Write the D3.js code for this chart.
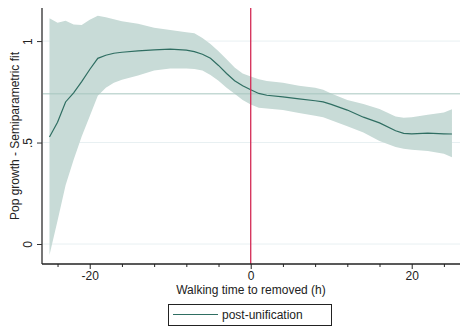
<!DOCTYPE html>
<html>
<head>
<meta charset="utf-8">
<script src="https://cdn.jsdelivr.net/npm/d3@7"></script>
<style>
  body { margin: 0; background: #fff; }
  text { font-family: "Liberation Sans", Arial, sans-serif; }
</style>
</head>
<body>
<svg id="chart" width="460" height="329"></svg>
<script>
// walking time (h)
var times = [-25, -24, -23, -22, -21, -20, -19, -18, -17, -16, -14, -12, -10, -8, -7, -6, -5, -4, -3, -2, -1,
  0, 1, 2, 4, 6, 8, 9, 10, 12, 14, 16, 18, 19, 20, 22, 24, 25];
var fit = [0.527, 0.60, 0.70, 0.745, 0.80, 0.86, 0.915, 0.93, 0.94, 0.945, 0.952, 0.957, 0.96, 0.955, 0.948, 0.935, 0.915, 0.88, 0.84, 0.805, 0.78,
  0.76, 0.742, 0.733, 0.725, 0.715, 0.706, 0.70, 0.688, 0.66, 0.625, 0.597, 0.558, 0.545, 0.543, 0.546, 0.543, 0.542];
var upper = [1.112, 1.09, 1.10, 1.082, 1.079, 1.105, 1.125, 1.118, 1.108, 1.098, 1.085, 1.066, 1.055, 1.044, 1.038, 1.015, 0.985, 0.95, 0.91, 0.87, 0.84,
  0.825, 0.812, 0.803, 0.795, 0.78, 0.77, 0.76, 0.742, 0.71, 0.69, 0.665, 0.628, 0.622, 0.625, 0.637, 0.648, 0.664];
var lower = [-0.054, 0.115, 0.29, 0.415, 0.53, 0.63, 0.73, 0.77, 0.795, 0.81, 0.83, 0.855, 0.865, 0.865, 0.863, 0.855, 0.833, 0.805, 0.77, 0.74, 0.71,
  0.688, 0.672, 0.668, 0.66, 0.645, 0.632, 0.625, 0.61, 0.58, 0.55, 0.508, 0.478, 0.47, 0.465, 0.458, 0.445, 0.427];
var yTicks = [0, 0.5, 1];
var yTickLabels = ["0", ".5", "1"];
var xMajor = [-20, 0, 20];
var xMinor = [-24, -16, -12, -8, -4, 4, 8, 12, 16, 24];
var refLevel = 0.74;
var cutoff = 0;

var svg = d3.select("#chart");
var pLeft = 42, pRight = 460, pTop = 8, pBottom = 264;

var x = d3.scaleLinear().domain([-25.93, 26]).range([pLeft, pRight]);
var y = d3.scaleLinear().domain([-0.0985, 1.163]).range([pBottom, pTop]);

var data = times.map(function(t, i) { return {t: t, m: fit[i], hi: upper[i], lo: lower[i]}; });

// grid lines
svg.append("g").selectAll("line").data(yTicks).enter().append("line")
  .attr("x1", pLeft).attr("x2", pRight)
  .attr("y1", function(d) { return y(d); }).attr("y2", function(d) { return y(d); })
  .attr("stroke", "#e8f0f2").attr("stroke-width", 1);

// confidence band
svg.append("path").datum(data)
  .attr("d", d3.area().x(function(d) { return x(d.t); })
    .y0(function(d) { return y(d.lo); }).y1(function(d) { return y(d.hi); }))
  .attr("fill", "#c8dbd7");

// reference level
svg.append("line")
  .attr("x1", pLeft).attr("x2", pRight)
  .attr("y1", y(refLevel)).attr("y2", y(refLevel))
  .attr("stroke", "#a8c6bf").attr("stroke-width", 1);

// fit line
svg.append("path").datum(data)
  .attr("d", d3.line().x(function(d) { return x(d.t); }).y(function(d) { return y(d.m); }))
  .attr("fill", "none").attr("stroke", "#2f6e62").attr("stroke-width", 1.2);

// cutoff line
svg.append("line")
  .attr("x1", x(cutoff)).attr("x2", x(cutoff))
  .attr("y1", pTop).attr("y2", pBottom)
  .attr("stroke", "#d42a55").attr("stroke-width", 1.3);

// y axis
var yAxis = svg.append("g").attr("transform", "translate(" + pLeft + ",0)")
  .call(d3.axisLeft(y).tickValues(yTicks).tickSize(5).tickFormat(function(d, i) { return yTickLabels[i]; }));
yAxis.select(".domain").attr("d", "M0," + pTop + "V" + pBottom).attr("stroke", "#777").attr("stroke-width", 2);
yAxis.selectAll(".tick line").attr("stroke", "#333");
yAxis.selectAll(".tick text")
  .attr("font-size", 12).attr("fill", "#222")
  .attr("transform", "translate(-14,0) rotate(-90)")
  .attr("x", 0).attr("dy", "0.35em").attr("text-anchor", "middle");

// x axis
var xAxis = svg.append("g").attr("transform", "translate(0," + pBottom + ")")
  .call(d3.axisBottom(x).tickValues(xMajor).tickSize(5).tickFormat(function(d) { return String(d); }));
xAxis.select(".domain").attr("d", "M" + pLeft + ",0H" + pRight).attr("stroke", "#222").attr("stroke-width", 1.3);
xAxis.selectAll(".tick line").attr("stroke", "#222");
xAxis.selectAll(".tick text").attr("font-size", 12).attr("fill", "#222").attr("y", 7);
svg.append("g").attr("transform", "translate(0," + pBottom + ")")
  .call(d3.axisBottom(x).tickValues(xMinor).tickSize(3).tickFormat(""))
  .call(function(g) { g.select(".domain").remove(); g.selectAll(".tick line").attr("stroke", "#222"); });

// axis titles
svg.append("text").attr("x", 251).attr("y", 294)
  .attr("text-anchor", "middle").attr("font-size", 12).attr("fill", "#222")
  .text("Walking time to removed (h)");
svg.append("text").attr("transform", "translate(19," + ((pTop + pBottom) / 2) + ") rotate(-90)")
  .attr("text-anchor", "middle").attr("font-size", 12).attr("fill", "#222")
  .text("Pop growth - Semiparametric fit");

// legend
var lg = svg.append("g");
lg.append("rect").attr("x", 168.5).attr("y", 304.5).attr("width", 163).attr("height", 21)
  .attr("fill", "#fff").attr("stroke", "#222").attr("stroke-width", 1);
lg.append("line").attr("x1", 173).attr("x2", 218).attr("y1", 314.5).attr("y2", 314.5)
  .attr("stroke", "#2f6e62").attr("stroke-width", 1.2);
lg.append("text").attr("x", 222).attr("y", 319).attr("font-size", 12).attr("fill", "#222")
  .text("post-unification");
</script>
</body>
</html>
